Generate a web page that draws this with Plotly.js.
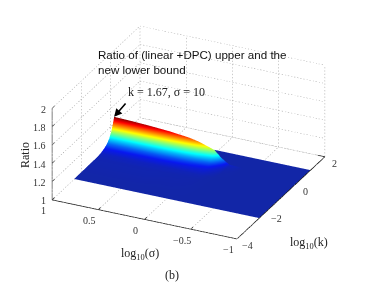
<!DOCTYPE html>
<html><head><meta charset="utf-8">
<script src="https://cdn.plot.ly/plotly-3.0.1.min.js"></script>
<style>html,body{margin:0;padding:0;background:#fff}#c{width:365px;height:289px}</style></head>
<body><div id="c"></div>
<script>
var kGrid=[-2.5,-1,-0.7,-0.43,-0.25,-0.1,0.05,0.15,0.23,0.3,0.4,0.6,1];
var sigmaGrid=[1,0.83,0.62,0.4,0.185,0.08,-0.085,-0.16,-0.25,-0.4,-1];
var ratio=[
[1.004,1.008,1.013,1.032,1.054,1.089,1.149,1.214,1.274,1.034,1.014,1.004,1.004],
[1.004,1.008,1.013,1.031,1.053,1.087,1.146,1.21,1.269,1.033,1.014,1.004,1.004],
[1.004,1.008,1.013,1.03,1.051,1.084,1.141,1.202,1.259,1.032,1.013,1.004,1.004],
[1.004,1.008,1.012,1.029,1.049,1.08,1.133,1.191,1.244,1.031,1.013,1.004,1.004],
[1.004,1.007,1.011,1.026,1.044,1.072,1.12,1.172,1.22,1.028,1.012,1.004,1.004],
[1.004,1.007,1.01,1.024,1.04,1.065,1.108,1.155,1.198,1.026,1.011,1.004,1.004],
[1.004,1.006,1.009,1.019,1.03,1.048,1.079,1.113,1.144,1.02,1.009,1.004,1.004],
[1.004,1.005,1.006,1.011,1.017,1.026,1.042,1.059,1.074,1.012,1.007,1.004,1.004],
[1.004,1.004,1.004,1.005,1.006,1.007,1.01,1.012,1.015,1.005,1.004,1.004,1.004],
[1.004,1.004,1.004,1.004,1.004,1.004,1.004,1.004,1.004,1.004,1.004,1.004,1.004],
[1.004,1.004,1.004,1.004,1.004,1.004,1.004,1.004,1.004,1.004,1.004,1.004,1.004]];
var kTicks=[-4,-2,0,2];
var sigmaTicks=[1,0.5,0,-0.5,-1];
var zTicks=[1,1.2,1.4,1.6,1.8,2];
var kMin=-4,kMax=2,sMin=-1,sMax=1,zMin=1,zMax=2;

var g={x:[],y:[],z:[]};
function seg(o,a,b){o.x.push(a[0],b[0],null);o.y.push(a[1],b[1],null);o.z.push(a[2],b[2],null);}
function dots(a,b,n){
  for(var i=0;i<n;i++){
    var t0=i/n,t1=(i+0.4)/n;
    seg(g,[a[0]+(b[0]-a[0])*t0,a[1]+(b[1]-a[1])*t0,a[2]+(b[2]-a[2])*t0],
          [a[0]+(b[0]-a[0])*t1,a[1]+(b[1]-a[1])*t1,a[2]+(b[2]-a[2])*t1]);
  }
}
var nK=40,nS=60,nZ=28;
zTicks.forEach(function(z){dots([kMin,sMax,z],[kMax,sMax,z],nK);dots([kMax,sMax,z],[kMax,sMin,z],nS);});
kTicks.forEach(function(k){dots([k,sMax,zMin],[k,sMax,zMax],nZ);dots([k,sMin,zMin],[k,sMax,zMin],nS);});
sigmaTicks.forEach(function(s){dots([kMax,s,zMin],[kMax,s,zMax],nZ);dots([kMin,s,zMin],[kMax,s,zMin],nK);});

var a={x:[],y:[],z:[]};
seg(a,[kMin,sMax,zMin],[kMin,sMin,zMin]);
seg(a,[kMin,sMin,zMin],[kMax,sMin,zMin]);
var zAx={x:[],y:[],z:[]};
seg(zAx,[kMin,sMax,zMin],[kMin,sMax,zMax]);
sigmaTicks.forEach(function(s){seg(a,[kMin,s,zMin],[kMin+0.15,s,zMin]);});
kTicks.forEach(function(k){seg(a,[k,sMin,zMin],[k,sMin+0.08,zMin]);});
zTicks.forEach(function(z){seg(zAx,[kMin,sMax,z],[kMin+0.18,sMax,z]);});

var jet=[[0,'#10209e'],[0.05,'#1226a8'],[0.14,'#0818f0'],[0.375,'#00ffff'],[0.625,'#ffff00'],[0.875,'#ff0000'],[1,'#800000']];
var traces=[
{type:'scatter3d',mode:'lines',x:g.x,y:g.y,z:g.z,connectgaps:false,line:{color:'#999',width:1},hoverinfo:'skip',showlegend:false},
{type:'surface',x:kGrid,y:sigmaGrid,z:ratio,colorscale:jet,cmin:0.99,cmax:1.274,showscale:false,hoverinfo:'skip',
 lighting:{ambient:1,diffuse:0,specular:0,roughness:1,fresnel:0},contours:{x:{show:false},y:{show:false},z:{show:false}}},
{type:'scatter3d',mode:'lines',x:a.x,y:a.y,z:a.z,line:{color:'#111',width:1.5},hoverinfo:'skip',showlegend:false},
{type:'scatter3d',mode:'lines',x:zAx.x,y:zAx.y,z:zAx.z,line:{color:'#555',width:1.5},hoverinfo:'skip',showlegend:false}
];

var serif='"Liberation Serif",serif', sans='"Liberation Sans",sans-serif';
function lab(t){return String(t).replace('-','−');}
var ann=[];
function tick(x,y,z,t,dx,dy,anchor){ann.push({x:x,y:y,z:z,text:lab(t),showarrow:false,xshift:dx,yshift:dy,xanchor:anchor||'center',font:{family:serif,size:10,color:'#333'}});}
sigmaTicks.forEach(function(s){tick(kMin,s,zMin,s,-9,-11);});
kTicks.forEach(function(k){tick(k,sMin,zMin,k,10,-7);});
zTicks.forEach(function(z){tick(kMin,sMax,z,z,-4,-1,'right');});
ann.push({x:0.23,y:1,z:1.274,text:'\u00a0',showarrow:true,ax:13,ay:-15,arrowhead:2,arrowsize:1,arrowwidth:1.6,arrowcolor:'#000',standoff:0,font:{size:1}});

var axis={showgrid:false,zeroline:false,showline:false,showticklabels:false,ticks:'',showbackground:false,showspikes:false,title:{text:''}};
var layout={width:365,height:289,margin:{l:0,r:0,t:0,b:0},paper_bgcolor:'#fff',showlegend:false,hovermode:false,
 scene:{domain:{x:[12/365,1],y:[24/289,1]},
  aspectmode:'manual',aspectratio:{x:1.545,y:1.545,z:0.772},
  camera:{projection:{type:'orthographic'},up:{x:0,y:0,z:1},center:{x:0,y:0,z:0},eye:{x:-1.62,y:-0.77,z:0.89}},
  xaxis:Object.assign({},axis,{range:[kMin,kMax]}),
  yaxis:Object.assign({},axis,{range:[sMin,sMax]}),
  zaxis:Object.assign({},axis,{range:[zMin,zMax]}),
  annotations:ann},
 annotations:[
  {xref:'paper',yref:'paper',x:96/365,y:1-62/289,xanchor:'left',yanchor:'middle',align:'left',showarrow:false,text:'Ratio of (linear +DPC) upper and the<br>new lower bound',font:{family:sans,size:11.6,color:'#111'}},
  {xref:'paper',yref:'paper',x:126/365,y:1-92/289,xanchor:'left',yanchor:'middle',showarrow:false,text:'k = 1.67, σ = 10',font:{family:serif,size:12,color:'#222'}},
  {xref:'paper',yref:'paper',x:25/365,y:1-155/289,xanchor:'center',yanchor:'middle',showarrow:false,textangle:-90,text:'Ratio',font:{family:serif,size:12,color:'#222'}},
  {xref:'paper',yref:'paper',x:140/365,y:1-254/289,xanchor:'center',yanchor:'middle',showarrow:false,text:'log<sub>10</sub>(σ)',font:{family:serif,size:12,color:'#222'}},
  {xref:'paper',yref:'paper',x:309/365,y:1-243/289,xanchor:'center',yanchor:'middle',showarrow:false,text:'log<sub>10</sub>(k)',font:{family:serif,size:12,color:'#222'}},
  {xref:'paper',yref:'paper',x:172/365,y:1-275/289,xanchor:'center',yanchor:'middle',showarrow:false,text:'(b)',font:{family:serif,size:12,color:'#222'}}
 ]};
Plotly.newPlot('c',traces,layout,{displayModeBar:false});
</script></body></html>
